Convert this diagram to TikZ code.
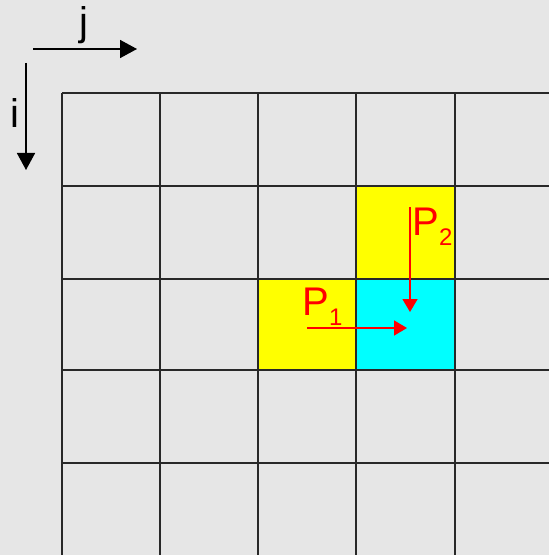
\documentclass[tikz,border=0pt]{standalone}
\usepackage{fontspec}
\setmainfont{Liberation Sans}
\usetikzlibrary{arrows.meta, positioning}
\definecolor{bggray}{RGB}{230, 230, 230}
\definecolor{cellyellow}{RGB}{255, 255, 0}
\definecolor{cellcyan}{RGB}{0, 255, 255}
\definecolor{ptred}{RGB}{255, 0, 0}
\definecolor{gridgray}{RGB}{40, 40, 40}
\tikzset{
  gridline/.style   = {draw=gridgray, line width=0.7pt},
  axisarrow/.style  = {-{Triangle[length=8.5pt, width=9pt]}, line width=0.8pt, black},
  movearrow/.style  = {-{Triangle[length=6.5pt, width=7.5pt]}, line width=0.75pt, ptred},
  idxlabel/.style   = {font=\fontsize{20}{24}\selectfont, inner sep=0pt, anchor=base},
  ptlabel/.style    = {text=ptred, font=\fontsize{20}{24}\selectfont, inner sep=0pt, anchor=base west},
  cellprev/.style   = {fill=cellyellow},
  cellcur/.style    = {fill=cellcyan},
}
\newcommand{\ptsub}[1]{\raisebox{-5pt}{\fontsize{12}{14}\selectfont #1}}

\begin{document}
\begin{tikzpicture}[x=0.5pt, y=-0.5pt]
  % 边界框与背景
  \useasboundingbox (0,0) rectangle (549,555);
  \fill[bggray] (0,0) rectangle (549,555);

  \fill[cellprev] (356,186) rectangle (455,279);
  \fill[cellprev] (258,279) rectangle (356,370);
  \fill[cellcur]  (356,279) rectangle (455,370);

  \foreach \gx in {62,160,258,356,455}
    \draw[gridline] (\gx,93) -- (\gx,555);
  \foreach \gy in {93,186,279,370,463}
    \draw[gridline] (62,\gy) -- (549,\gy);

  % 下标方向
  \coordinate (jstart) at (33,49);
  \coordinate (jend) at (137,49);
  \draw[axisarrow] (jstart) -- (jend);
  \node[idxlabel] (jlab) at (84,36) {j};

  \coordinate (istart) at (26,63);
  \coordinate (iend) at (26,170);
  \draw[axisarrow] (istart) -- (iend);
  \node[idxlabel] (ilab) at (15,128) {i};

  \node[ptlabel] (pone) at (302,315) {P\ptsub{1}};
  \coordinate (ponestart) at (307,328);
  \coordinate (poneend) at (407,328);
  \draw[movearrow] (ponestart) -- (poneend);

  \node[ptlabel] (ptwo) at (412,235) {P\ptsub{2}};
  \coordinate (ptwostart) at (410,207);
  \coordinate (ptwoend) at (410,312);
  \draw[movearrow] (ptwostart) -- (ptwoend);
\end{tikzpicture}
\end{document}
